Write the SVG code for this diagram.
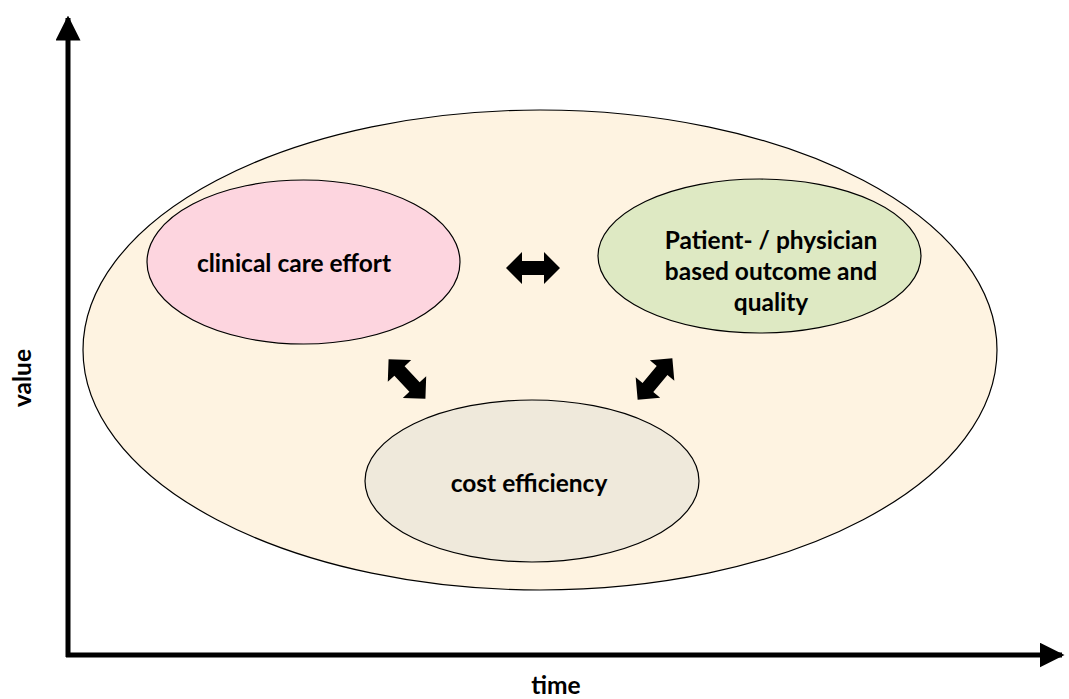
<svg xmlns="http://www.w3.org/2000/svg" width="1069" height="699" viewBox="0 0 1069 699">
  <style>
    .lbl { font-family: "Lato", "Open Sans", "Liberation Sans", sans-serif; font-weight: bold; font-size: 24.5px; fill: #000; text-anchor: middle; }
    .outline { stroke: #000; stroke-width: 1.2; }
    .axis { stroke: #000; stroke-width: 5; fill: none; }
  </style>
  <defs>
    <marker id="axisHead" viewBox="0 0 10 10" refX="9" refY="5" markerWidth="5" markerHeight="5" markerUnits="strokeWidth" orient="auto">
      <path d="M0,0 L10,5 L0,10 Z" fill="#000"/>
    </marker>
    <!-- block double arrow, centred at the origin -->
    <path id="dblArrow" d="M-27,0 L-11,-16 L-11,-7 L11,-7 L11,-16 L27,0 L11,16 L11,7 L-11,7 L-11,16 Z" fill="#000"/>
  </defs>

  <rect width="1069" height="699" fill="#fff"/>

  <!-- axes -->
  <g id="axes">
    <line class="axis" x1="68" y1="657" x2="68" y2="18" marker-end="url(#axisHead)"/>
    <line class="axis" x1="66" y1="655" x2="1062" y2="655" marker-end="url(#axisHead)"/>
    <text class="lbl" x="556" y="694">time</text>
    <text class="lbl" transform="translate(31,378) rotate(-90)">value</text>
  </g>

  <!-- enclosing value area -->
  <g id="value-area">
    <ellipse class="outline" cx="540" cy="350" rx="457" ry="240" fill="#FEF3E1"/>
  </g>

  <g id="clinical-care-effort">
    <ellipse class="outline" cx="303.5" cy="262" rx="156.5" ry="82" fill="#FDD5DF"/>
    <text class="lbl" x="294" y="272">clinical care effort</text>
  </g>

  <g id="outcome-quality">
    <ellipse class="outline" cx="759.5" cy="256" rx="161.5" ry="77" fill="#DEE9C3"/>
    <text class="lbl" x="771" y="249">Patient- / physician</text>
    <text class="lbl" x="771" y="280">based outcome and</text>
    <text class="lbl" x="771" y="311">quality</text>
  </g>

  <g id="cost-efficiency">
    <ellipse class="outline" cx="532" cy="481" rx="167" ry="81" fill="#EFE9DB"/>
    <text class="lbl" x="529" y="492">cost efficiency</text>
  </g>

  <!-- relations between the three dimensions -->
  <g id="connectors">
    <use href="#dblArrow" transform="translate(533,268)"/>
    <use href="#dblArrow" transform="translate(407,379) rotate(47)"/>
    <use href="#dblArrow" transform="translate(655,379) rotate(-50)"/>
  </g>
</svg>
